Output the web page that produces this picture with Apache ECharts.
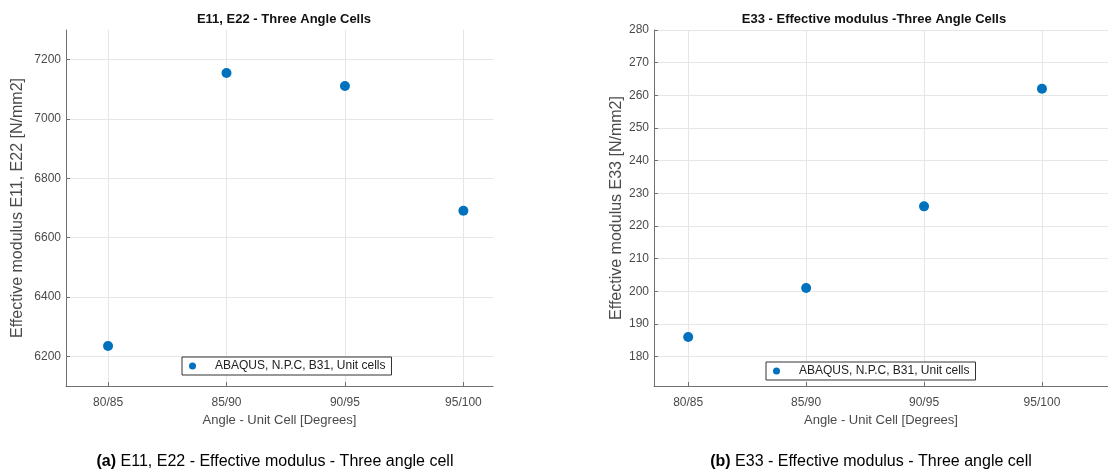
<!DOCTYPE html>
<html>
<head>
<meta charset="utf-8">
<script src="https://cdn.jsdelivr.net/npm/echarts@6/dist/echarts.min.js"></script>
<style>
  html, body { margin: 0; padding: 0; background: #fff; }
  #main { width: 1108px; height: 475px; }
</style>
</head>
<body>
<div id="main"></div>
<script>
var categories = ['80/85', '85/90', '90/95', '95/100'];
var e11e22 = [6235, 7155, 7111, 6691];
var e33 = [186, 201, 226, 262];
var yTicksLeft = [6200, 6400, 6600, 6800, 7000, 7200];
var yTicksRight = [180, 190, 200, 210, 220, 230, 240, 250, 260, 270, 280];
var seriesName = 'ABAQUS, N.P.C, B31, Unit cells';

var xPos = categories.map(function (c, i) { return i + 1; });
function pairs(vals) {
  return vals.map(function (v, i) { return [xPos[i], v]; });
}

var chartDom = document.getElementById('main');
var myChart = echarts.init(chartDom);
var option;

var font = 'Liberation Sans, Arial, sans-serif';
var gray = '#4a4a4a';

function xAxisOf(idx, min, max) {
  return {
    gridIndex: idx,
    type: 'value',
    min: min,
    max: max,
    name: 'Angle - Unit Cell [Degrees]',
    nameLocation: 'middle',
    nameGap: 28,
    nameTextStyle: { color: gray, fontSize: 13, fontFamily: font },
    axisLine: { lineStyle: { color: '#707070' } },
    axisTick: { inside: true, length: 4, customValues: xPos, lineStyle: { color: '#707070' } },
    axisLabel: {
      customValues: xPos,
      margin: 11,
      color: gray,
      fontSize: 12,
      fontFamily: font,
      formatter: function (v) { return categories[Math.round(v) - 1] || ''; }
    },
    splitLine: { show: true, lineStyle: { color: '#e6e6e6' } }
  };
}

function yAxisOf(idx, min, max, ticks, name, gap) {
  return {
    gridIndex: idx,
    type: 'value',
    min: min,
    max: max,
    name: name,
    nameLocation: 'middle',
    nameGap: gap,
    nameTextStyle: { color: gray, fontSize: 16, fontFamily: font },
    axisLine: { show: true, lineStyle: { color: '#707070' } },
    axisTick: { show: true, inside: true, length: 4, customValues: ticks, lineStyle: { color: '#707070' } },
    axisLabel: {
      customValues: ticks, margin: 5, color: gray, fontSize: 12, fontFamily: font,
      formatter: function (v) { return String(v); }
    },
    splitLine: { show: true, lineStyle: { color: '#e6e6e6' } }
  };
}

function legendAt(left, top) {
  return {
    left: left,
    top: top,
    orient: 'horizontal',
    data: [seriesName],
    icon: 'circle',
    itemWidth: 35,
    itemHeight: 7,
    padding: [3, 6, 3, 7],
    borderColor: '#333',
    borderWidth: 1,
    borderRadius: 0,
    backgroundColor: '#fff',
    selectedMode: false,
    textStyle: { color: '#222', fontSize: 12, fontFamily: font }
  };
}

option = {
  backgroundColor: '#fff',
  animation: false,
  color: ['#0072BD'],
  title: [
    { text: 'E11, E22 - Three Angle Cells', left: 279, top: 8, textAlign: 'center',
      textStyle: { fontSize: 13, fontWeight: 'bold', color: '#111', fontFamily: font } },
    { text: 'E33 - Effective modulus -Three Angle Cells', left: 869, top: 8, textAlign: 'center',
      textStyle: { fontSize: 13, fontWeight: 'bold', color: '#111', fontFamily: font } },
    { text: '{b|(a)} E11, E22 - Effective modulus - Three angle cell', left: 270, top: 449, textAlign: 'center',
      textStyle: { fontSize: 16, color: '#000', fontWeight: 'normal', fontFamily: font,
        rich: { b: { fontSize: 16, fontWeight: 'bold', color: '#000', fontFamily: font } } } },
    { text: '{b|(b)} E33 - Effective modulus - Three angle cell', left: 866, top: 449, textAlign: 'center',
      textStyle: { fontSize: 16, color: '#000', fontWeight: 'normal', fontFamily: font,
        rich: { b: { fontSize: 16, fontWeight: 'bold', color: '#000', fontFamily: font } } } }
  ],
  legend: [legendAt(182, 357), legendAt(766, 362)],
  grid: [
    { left: 66, top: 30, width: 427, height: 356 },
    { left: 654, top: 30, width: 454, height: 356 }
  ],
  xAxis: [xAxisOf(0, 0.645, 4.25), xAxisOf(1, 0.71, 4.56)],
  yAxis: [
    yAxisOf(0, 6100, 7300, yTicksLeft, 'Effective modulus E11, E22 [N/mm2]', 40),
    yAxisOf(1, 171, 280, yTicksRight, 'Effective modulus E33 [N/mm2]', 28)
  ],
  series: [
    { name: seriesName, type: 'scatter', xAxisIndex: 0, yAxisIndex: 0, symbolSize: 10,
      itemStyle: { opacity: 1 }, data: pairs(e11e22) },
    { name: seriesName, type: 'scatter', xAxisIndex: 1, yAxisIndex: 1, symbolSize: 10,
      itemStyle: { opacity: 1 }, data: pairs(e33) }
  ]
};

option && myChart.setOption(option);
window.addEventListener('resize', function () {
  myChart.resize();
});
</script>
</body>
</html>
